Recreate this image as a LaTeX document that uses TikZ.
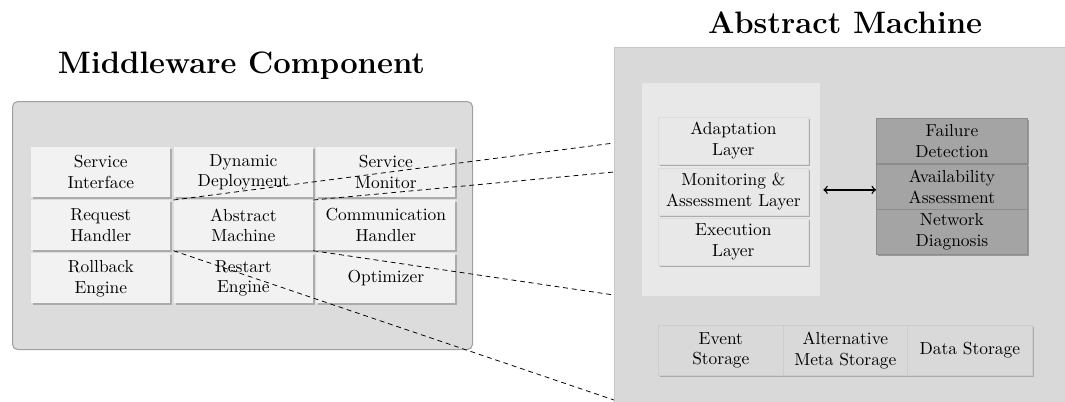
\documentclass[tikz,border=0pt]{standalone}
\usetikzlibrary{shadows}
\definecolor{panelL}{HTML}{DCDCDC}
\definecolor{panelLdraw}{HTML}{A0A0A0}
\definecolor{panelR}{HTML}{D9D9D9}
\definecolor{panelRdraw}{HTML}{C8C8C8}
\definecolor{innerfill}{HTML}{E8E8E8}
\definecolor{cellfill}{HTML}{F2F2F2}
\definecolor{cellshadow}{HTML}{ABABAB}
\definecolor{layerdraw}{HTML}{DDDDDD}
\definecolor{darkfill}{HTML}{A4A4A4}
\definecolor{darkdraw}{HTML}{8C8C8C}
\definecolor{darkshadow}{HTML}{999999}
\definecolor{stdraw}{HTML}{CDCDCD}
\tikzset{
  basebox/.style={rectangle, inner sep=0pt, anchor=north west, align=center},
  cell/.style={basebox, minimum width=139*0.574pt, minimum height=50*0.574pt, fill=cellfill,
    general shadow={shadow xshift=1.1pt, shadow yshift=-1.1pt, fill=cellshadow}},
  layerbox/.style={basebox, minimum width=150*0.574pt, minimum height=47*0.574pt, fill=innerfill, draw=layerdraw, line width=0.4pt,
    general shadow={shadow xshift=1.1pt, shadow yshift=-1.1pt, fill=cellshadow}},
  darkbox/.style={basebox, minimum width=151*0.574pt, minimum height=45*0.574pt, fill=darkfill, draw=darkdraw, line width=0.5pt,
    general shadow={shadow xshift=1.1pt, shadow yshift=-1.1pt, fill=darkshadow}},
  storebox/.style={basebox, minimum height=50*0.574pt, fill=panelR, draw=stdraw, line width=0.4pt,
    general shadow={shadow xshift=1.1pt, shadow yshift=-1.1pt, fill=cellshadow}},
  title/.style={font=\fontsize{17.8pt}{21pt}\selectfont\bfseries, anchor=base},
  zoomline/.style={dash pattern=on 2.8pt off 2.2pt, line width=0.45pt, black}
}
\begin{document}
\begin{tikzpicture}[x=0.574pt,y=-0.574pt]
\useasboundingbox (0,0) rectangle (1065,401);

% titles
\node[title] (t1) at (241.5,73) {Middleware Component};
\node[title] (t2) at (845,33) {Abstract Machine};

% left panel
\node[basebox, minimum width=460*0.574pt, minimum height=248*0.574pt, fill=panelL, draw=panelLdraw, line width=0.6pt, rounded corners=3pt] (lp) at (12,101) {};

\node[cell] (si) at (31,147)    {Service\\Interface};
\node[cell] (dd) at (173.5,147) {Dynamic\\Deployment};
\node[cell] (sm) at (316,147)   {Service\\Monitor};
\node[cell] (rh) at (31,200)    {Request\\Handler};
\node[cell] (am) at (173.5,200) {Abstract\\Machine};
\node[cell] (ch) at (316,200)   {Communication\\Handler};
\node[cell] (rb) at (31,253)    {Rollback\\Engine};
\node[cell] (rs) at (173.5,253) {Restart\\Engine};
\node[cell] (op) at (316,253)   {Optimizer};

% right panel
\node[basebox, minimum width=452*0.574pt, minimum height=355*0.574pt, fill=panelR, draw=panelRdraw, line width=0.6pt] (rp) at (614,47) {};
\node[basebox, minimum width=178*0.574pt, minimum height=213*0.574pt, fill=innerfill] (inner) at (642,83) {};

\node[layerbox] (al) at (658,117)   {Adaptation\\Layer};
\node[layerbox] (ml) at (658,167.5) {Monitoring \&\\Assessment Layer};
\node[layerbox] (el) at (658,218)   {Execution\\Layer};

\node[darkbox] (fd) at (876,118)   {Failure\\Detection};
\node[darkbox] (av) at (876,163.5) {Availability\\Assessment};
\node[darkbox] (nd) at (876,209)   {Network\\Diagnosis};

\draw[<->, line width=0.8pt] ([xshift=1.5pt]inner.east) -- (inner.east -| av.west);

\node[storebox, minimum width=125*0.574pt] (es) at (658,325) {Event\\Storage};
\node[storebox, minimum width=124*0.574pt] (ams) at (783,325) {Alternative\\Meta Storage};
\node[storebox, minimum width=125*0.574pt] (ds) at (907,325) {Data Storage};

% zoom lines
\coordinate (e1) at (614,143);
\coordinate (e2) at (614,172);
\coordinate (e3) at (614,295);
\coordinate (e4) at (614,400);
\draw[zoomline] (am.north west) -- (e1);
\draw[zoomline] (am.north east) -- (e2);
\draw[zoomline] (am.south east) -- (e3);
\draw[zoomline] (am.south west) -- (e4);
\end{tikzpicture}
\end{document}
